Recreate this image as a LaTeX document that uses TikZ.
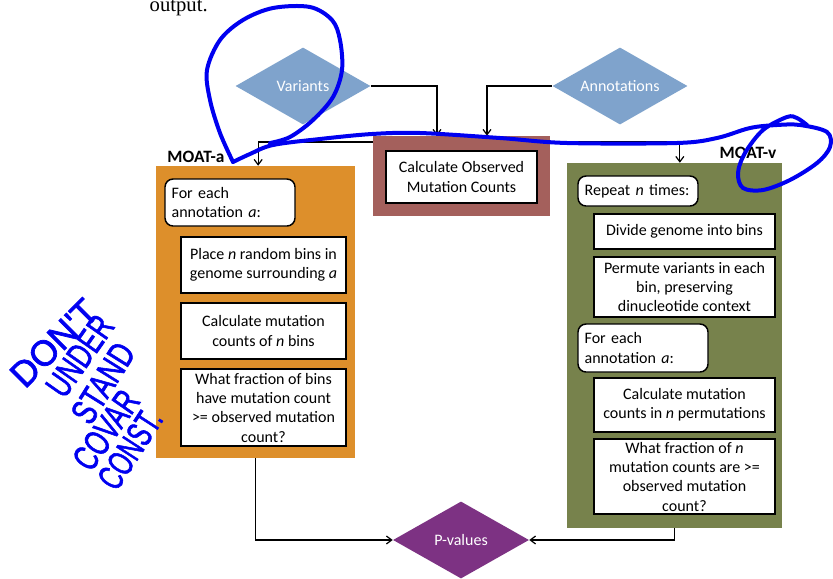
\documentclass[tikz,border=0pt]{standalone}
\usepackage{fontspec}
\setmainfont{Carlito}
\newfontfamily\handfont[FakeBold=2]{Liberation Sans}
\newfontfamily\pagefont{Liberation Serif}
\usetikzlibrary{shapes.geometric,arrows.meta}
\definecolor{inputblue}{HTML}{7FA3CC}
\definecolor{moataorange}{HTML}{DD8F2B}
\definecolor{observedred}{HTML}{A4605C}
\definecolor{moatvgreen}{HTML}{77824C}
\definecolor{resultpurple}{HTML}{7D3283}
\definecolor{penblue}{HTML}{0000F0}
\begin{document}
\begin{tikzpicture}[x=0.75pt,y=-0.75pt,>={Straight Barb[length=4pt,width=6pt]},
	font=\fontsize{12}{14.5}\selectfont,
	decision/.style={diamond,aspect=1.75,inner sep=0pt,text=white,font=\fontsize{12}{14}\selectfont,
		minimum width=101.25pt,minimum height=57.75pt},
	panel/.style={inner sep=0pt},
	stepbox/.style={draw,fill=white,line width=1.1pt,align=center,inner sep=1.5pt,minimum width=123.75pt},
	loopbox/.style={draw,fill=white,line width=1.1pt,rounded corners=6pt,align=left,inner xsep=5pt,inner ysep=1.5pt},
	panellabel/.style={font=\fontsize{13}{15}\selectfont\bfseries},
	link/.style={->,line width=0.9pt},
	scribble/.style={draw=penblue,line width=3pt,line cap=round,line join=round},
	hand/.style={text=penblue,inner sep=0pt,font=\handfont\fontsize{27}{29}\selectfont}]
	\useasboundingbox (0,0) rectangle (833,579);
	\node[anchor=base west,font=\pagefont\fontsize{15.5}{17}\selectfont] (pagetext) at (145,11) {output.};
	% inputs
	\node[decision,fill=inputblue] (var) at (303,86) {Variants};
	\node[decision,fill=inputblue] (ann) at (620,86) {Annotations};
	% MOAT-a panel
	\node[panel,fill=moataorange,minimum width=149.25pt,minimum height=219pt] (moata) at (255.5,312) {};
	\node[panellabel] (moatalab) at (196,157) {MOAT-a};
	\node[loopbox,text width=87.5pt,minimum height=35.25pt] (aeach) at (230,202.5) {For each\\annotation \textit{a}:};
	\node[stepbox,minimum height=42pt] (abins) at (263.5,265) {Place \textit{n} random bins in\\genome surrounding \textit{a}};
	\node[stepbox,minimum height=42pt] (acount) at (263.5,331) {Calculate mutation\\counts of \textit{n} bins};
	\node[stepbox,minimum height=57.75pt] (afrac) at (263.5,407.5) {What fraction of bins\\have mutation count\\>= observed mutation\\count?};
	% MOAT-v panel
	\node[panel,fill=moatvgreen,minimum width=161.25pt,minimum height=273.75pt] (moatv) at (674.5,345.5) {};
	\node[panellabel] (moatvlab) at (748,153) {MOAT-v};
	\node[loopbox,text width=80pt,minimum height=22.5pt] (vrepeat) at (638,191) {Repeat \textit{n} times:};
	\node[stepbox,minimum width=135.75pt,minimum height=26.25pt] (vdivide) at (684.5,231.5) {Divide genome into bins};
	\node[stepbox,minimum width=135.75pt,minimum height=45pt] (vpermute) at (684.5,287) {Permute variants in each\\bin, preserving\\dinucleotide context};
	\node[loopbox,text width=87.5pt,minimum height=36pt] (veach) at (643,348) {For each\\annotation \textit{a}:};
	\node[stepbox,minimum width=135.75pt,minimum height=40.5pt] (vcount) at (684.5,405) {Calculate mutation\\counts in \textit{n} permutations};
	\node[stepbox,minimum width=135.75pt,minimum height=56.25pt] (vfrac) at (684.5,476.5) {What fraction of \textit{n}\\mutation counts are >=\\observed mutation\\count?};
	% split to both panels, behind the observed box
	\coordinate (split) at (461.5,142);
	\draw[link] (split) -| ([xshift=2pt]moata.north);
	\draw[link] (split) -| ([xshift=4pt]moatv.north);
	% observed counts
	\node[panel,fill=observedred,minimum width=132.75pt,minimum height=60pt] (obs) at (461.5,176) {};
	\node[stepbox,minimum width=113.25pt,minimum height=39pt] (obstext) at (461.5,177) {Calculate Observed\\Mutation Counts};
	\coordinate (obsin1) at ([xshift=-18.375pt]obs.north);
	\coordinate (obsin2) at ([xshift=19.125pt]obs.north);
	\draw[link] (var.east) -| (obsin1);
	\draw[link] (ann.west) -| (obsin2);
	% result
	\node[decision,fill=resultpurple,minimum width=102pt] (pval) at (461,540) {P-values};
	\draw[link] (moata.south) |- (pval.west);
	\draw[link] (moatv.south) |- (pval.east);
	% pen notes
	\draw[scribble] plot[smooth,tension=0.55] coordinates {(807,125) (797,118) (787,117) (763,130) (745,153) (738,173) (743,188) (763,190) (790,180) (817,163) (830,147) (827,132) (800,125) (777,125) (750,128) (717,138) (677,143) (567,143) (500,138) (420,133) (372,134) (320,139) (273,145) (250,154) (233,162)};
	\draw[scribble] plot[smooth,tension=0.55] coordinates {(233,162) (220,133) (210,100) (207,70) (220,40) (243,20) (273,8) (310,7) (332,20) (340,40) (342,70) (333,97) (313,120) (290,137) (270,143)};
	\node[hand,rotate=45] (dont) at (54,343) {\scalebox{0.98}[1]{DON'T}};
	\node[hand,rotate=55] (under) at (80,356) {\scalebox{0.7}[1]{UNDER}};
	\node[hand,rotate=58] (stand) at (103,383) {\scalebox{0.73}[1]{STAND}};
	\node[hand,rotate=55] (covar) at (106,430) {\scalebox{0.7}[1]{COVAR}};
	\node[hand,rotate=57] (const) at (130,449) {\scalebox{0.66}[1]{CONST.}};
\end{tikzpicture}
\end{document}
